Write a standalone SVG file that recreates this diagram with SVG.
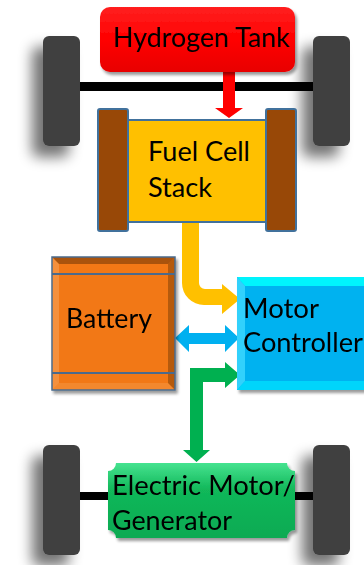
<svg xmlns="http://www.w3.org/2000/svg" width="364" height="565" viewBox="0 0 364 565">
  <defs>
    <filter id="wheelShadow" x="-100%" y="-50%" width="300%" height="200%">
      <feGaussianBlur in="SourceAlpha" stdDeviation="7"/>
      <feOffset dx="-11" dy="11" result="b"/>
      <feComponentTransfer><feFuncA type="linear" slope="0.55"/></feComponentTransfer>
      <feMerge><feMergeNode/><feMergeNode in="SourceGraphic"/></feMerge>
    </filter>
    <filter id="boxShadow" x="-20%" y="-20%" width="140%" height="140%">
      <feGaussianBlur in="SourceAlpha" stdDeviation="1.5"/>
      <feOffset dx="2" dy="3" result="b"/>
      <feComponentTransfer><feFuncA type="linear" slope="0.4"/></feComponentTransfer>
      <feMerge><feMergeNode/><feMergeNode in="SourceGraphic"/></feMerge>
    </filter>
    <linearGradient id="redGrad" x1="0" y1="0" x2="0" y2="1">
      <stop offset="0" stop-color="#ff2020"/>
      <stop offset="0.5" stop-color="#ff0000"/>
      <stop offset="1" stop-color="#e80000"/>
    </linearGradient>
    <linearGradient id="greenGrad" x1="0" y1="0" x2="0" y2="1">
      <stop offset="0" stop-color="#46e390"/>
      <stop offset="0.35" stop-color="#12b85a"/>
      <stop offset="1" stop-color="#08aa52"/>
    </linearGradient>
    <style>
      .wheel { fill: #404040; }
      .axle { fill: #000000; }
      .label { font-family: Lato, "Open Sans", "Liberation Sans", sans-serif; font-size: 26px; fill: #000000; }
      .frame { stroke: #41719c; stroke-width: 2; }
    </style>
  </defs>

  <g id="chassis">
    <g id="wheel-front-left" filter="url(#wheelShadow)"><rect class="wheel" x="43" y="36" width="37" height="110" rx="6"/></g>
    <g id="wheel-front-right" filter="url(#wheelShadow)"><rect class="wheel" x="313" y="36" width="37" height="110" rx="6"/></g>
    <g id="wheel-rear-left" filter="url(#wheelShadow)"><rect class="wheel" x="43" y="445" width="37" height="110" rx="6"/></g>
    <g id="wheel-rear-right" filter="url(#wheelShadow)"><rect class="wheel" x="313" y="445" width="37" height="110" rx="6"/></g>
    <rect class="axle" x="80" y="82" width="233" height="9"/>
    <rect class="axle" x="80" y="492" width="233" height="8"/>
  </g>

  <g id="connectors">
    <polygon id="h2-to-stack" fill="#ff0000" points="223,72 235,72 235,108 243,108 229,118 215,108 223,108"/>
    <path id="stack-to-controller" fill="#ffc000" d="M182,222 H199 V283 A6,6 0 0 0 205,289 H222 V284 L240,299 L222,314 V305 H204 A22,22 0 0 1 182,283 Z"/>
    <polygon id="battery-controller" fill="#00b0f0" points="175,338 189,325 189,333 225,333 225,325 239,338 225,352 225,344 189,344 189,352"/>
    <polygon id="controller-motor" fill="#00b050" points="190,368 225,368 225,362 240,375 225,388 225,382 203,382 203,450 210,450 196.5,462 183,450 190,450"/>
  </g>

  <g id="hydrogen-tank" filter="url(#boxShadow)">
    <rect x="100" y="7" width="195" height="65" rx="10" fill="url(#redGrad)"/>
    <text class="label" x="113" y="47" textLength="177" lengthAdjust="spacingAndGlyphs">Hydrogen Tank</text>
  </g>

  <g id="fuel-cell-stack">
    <rect class="frame" x="128" y="120" width="138" height="102" fill="#ffc000"/>
    <rect class="frame" x="98" y="109" width="30" height="122" rx="2" fill="#984807"/>
    <rect class="frame" x="266" y="109" width="30" height="122" rx="2" fill="#984807"/>
    <text class="label" x="148" y="161" textLength="102" lengthAdjust="spacingAndGlyphs">Fuel Cell</text>
    <text class="label" x="148" y="197" textLength="64" lengthAdjust="spacingAndGlyphs">Stack</text>
  </g>

  <g id="battery" filter="url(#boxShadow)">
    <rect x="52" y="257" width="123" height="133" fill="#f27812"/>
    <polygon points="52,257 175,257 168,264 59,264" fill="#000" fill-opacity="0.3"/>
    <polygon points="175,257 175,390 168,383 168,264" fill="#000" fill-opacity="0.25"/>
    <polygon points="52,257 59,264 59,383 52,390" fill="#fff" fill-opacity="0.18"/>
    <polygon points="52,390 59,383 168,383 175,390" fill="#fff" fill-opacity="0.12"/>
    <line x1="52" y1="274" x2="175" y2="274" stroke="#4b6b8c" stroke-width="2"/>
    <line x1="52" y1="373" x2="175" y2="373" stroke="#4b6b8c" stroke-width="2"/>
    <rect x="52" y="257" width="123" height="133" fill="none" stroke="#4b6b8c" stroke-width="1.5"/>
    <text class="label" x="66" y="328" textLength="86" lengthAdjust="spacingAndGlyphs">Battery</text>
  </g>

  <g id="motor-controller" filter="url(#boxShadow)">
    <rect x="237" y="277" width="135" height="113" fill="#00b2f0"/>
    <polygon points="237,277 372,277 364,286 245,286" fill="#00ffff" fill-opacity="0.85"/>
    <polygon points="237,277 245,286 245,381 237,390" fill="#40d8ff" fill-opacity="0.8"/>
    <polygon points="237,390 245,381 364,381 372,390" fill="#00e0ff" fill-opacity="0.75"/>
    <text class="label" x="243" y="318" textLength="76" lengthAdjust="spacingAndGlyphs">Motor</text>
    <text class="label" x="243" y="352" textLength="120" lengthAdjust="spacingAndGlyphs">Controller</text>
  </g>

  <g id="electric-motor" filter="url(#boxShadow)">
    <path d="M116,463 H287 A8,8 0 0 0 295,471 V530 A8,8 0 0 0 287,538 H116 A8,8 0 0 0 108,530 V471 A8,8 0 0 0 116,463 Z" fill="url(#greenGrad)"/>
    <text class="label" x="112" y="495" textLength="183" lengthAdjust="spacingAndGlyphs">Electric Motor/</text>
    <text class="label" x="112" y="530" textLength="120" lengthAdjust="spacingAndGlyphs">Generator</text>
  </g>
</svg>
